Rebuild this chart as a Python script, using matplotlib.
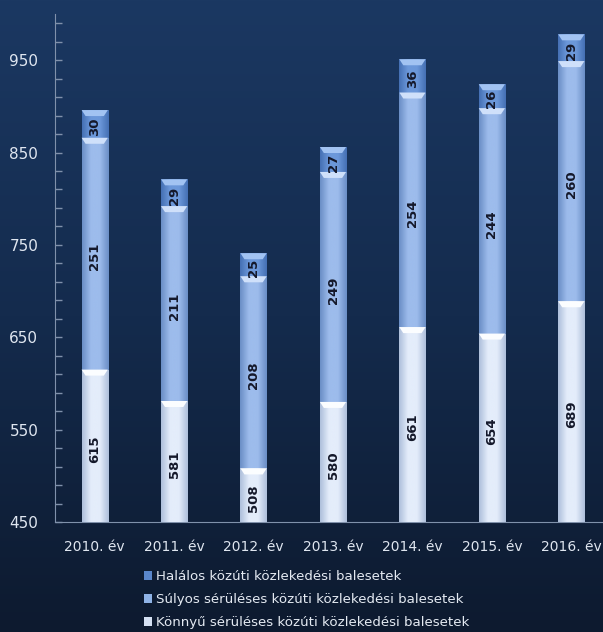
import numpy as np
import matplotlib
matplotlib.use("Agg")
import matplotlib.pyplot as plt
from matplotlib.patches import Polygon, Patch
from matplotlib.colors import LinearSegmentedColormap

# data
years = ['2010. év', '2011. év', '2012. év', '2013. év', '2014. év', '2015. év', '2016. év']
konnyu = [615, 581, 508, 580, 661, 654, 689]
sulyos = [251, 211, 208, 249, 254, 244, 260]
halalos = [30, 29, 25, 27, 36, 26, 29]
series_names = ['Könnyű sérüléses közúti közlekedési balesetek',
                'Súlyos sérüléses közúti közlekedési balesetek',
                'Halálos közúti közlekedési balesetek']

# styling per series: (edge colour, centre colour, bevel colour)
styles = [('#aebfdb', '#e4edfb', '#fbfdff'),
          ('#6a8ec6', '#9dbcec', '#cfe0fa'),
          ('#4570b4', '#6c98da', '#a2c3f2')]
legend_cols = ['#d4e0f2', '#8fb3e6', '#5a87cc']

W, H = 603, 632
fig = plt.figure(figsize=(W / 100, H / 100), dpi=100)

# background gradient
bg = fig.add_axes([0, 0, 1, 1], zorder=-10)
grad = np.linspace(0, 1, 256).reshape(-1, 1)
bg_cmap = LinearSegmentedColormap.from_list('bg', ['#1b3862', '#142b4d', '#0d1a2f'])
bg.imshow(grad, aspect='auto', cmap=bg_cmap, extent=[0, 1, 0, 1])
bg.axis('off')

ax = fig.add_axes([55 / W, 1 - 522 / H, 556 / W, 508 / H])
ax.patch.set_alpha(0)
ax.set_xlim(-0.5, len(years) - 0.5)
ax.set_ylim(450, 1000)
ymin = ax.get_ylim()[0]

x = np.arange(len(years))
bw = 0.33
bottoms = np.zeros(len(years))
bevel_h = 6.5
inset = 0.05

for vals, (c_edge, c_mid, c_bev) in zip([konnyu, sulyos, halalos], styles):
    vals = np.array(vals, dtype=float)
    bars = ax.bar(x, vals, bw, bottom=bottoms, color=c_mid, edgecolor='none', zorder=2)
    cm = LinearSegmentedColormap.from_list('b', [c_edge, c_mid, c_mid, c_edge])
    hgrad = np.linspace(0, 1, 64).reshape(1, -1)
    for b in bars:
        x0 = b.get_x()
        x1 = x0 + b.get_width()
        y0 = max(b.get_y(), ymin)
        y1 = b.get_y() + b.get_height()
        im = ax.imshow(hgrad, cmap=cm, aspect='auto', extent=[x0, x1, y0, y1],
                       zorder=3, interpolation='bicubic')
        im.set_clip_path(b)
        # bevel at top of segment
        bev = Polygon([[x0, y1], [x1, y1], [x1 - inset, y1 - bevel_h], [x0 + inset, y1 - bevel_h]],
                      closed=True, facecolor=c_bev, edgecolor='none', zorder=4)
        ax.add_patch(bev)
        ax.text((x0 + x1) / 2, (y0 + y1 - bevel_h) / 2, f'{int(b.get_height())}',
                rotation=90, ha='center', va='center', fontsize=9.5, fontweight='bold',
                color='#14182a', zorder=5)
    bottoms = bottoms + vals

ax.set_xticks(x)
ax.set_xticklabels(years)
ax.set_yticks(np.arange(450, 1000, 100))
ax.set_yticks(np.arange(450, 1001, 20), minor=True)
ax.tick_params(axis='x', length=0, pad=13, labelsize=10, colors='#dfe6f0')
ax.tick_params(axis='y', which='both', direction='in', length=5, width=1,
               color='#8091ab', labelsize=11, labelcolor='#dfe6f0', pad=12)
for s in ['top', 'right']:
    ax.spines[s].set_visible(False)
for s in ['left', 'bottom']:
    ax.spines[s].set_color('#8091ab')

handles = [Patch(facecolor=legend_cols[i], edgecolor='none') for i in [2, 1, 0]]
labels = [series_names[i] for i in [2, 1, 0]]
fig.legend(handles, labels, loc='upper left', bbox_to_anchor=(144 / W, 1 - 570 / H),
           frameon=False, fontsize=9.6, labelcolor='#e4eaf2', handlelength=0.6,
           handleheight=0.6, handletextpad=0.3, labelspacing=0.76, borderpad=0,
           borderaxespad=0)

fig.savefig('out.png', dpi=100)
